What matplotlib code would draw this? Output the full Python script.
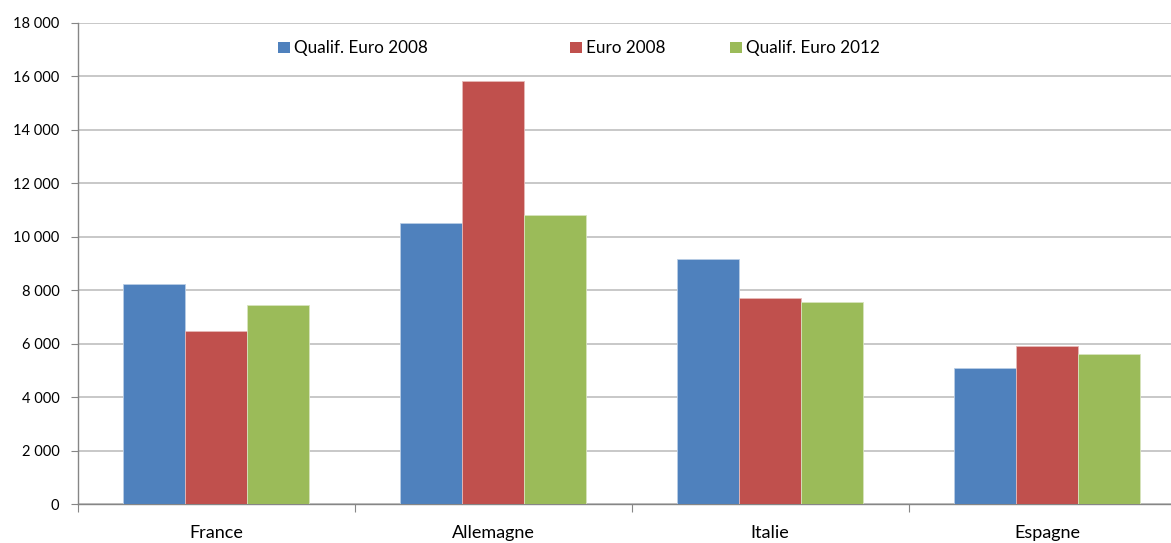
import matplotlib
matplotlib.use("Agg")
import matplotlib.pyplot as plt
from matplotlib.patches import Rectangle
from matplotlib.ticker import FuncFormatter
import numpy as np

# Data
countries = ["France", "Allemagne", "Italie", "Espagne"]
series_names = ["Qualif. Euro 2008", "Euro 2008", "Qualif. Euro 2012"]
qualif_2008 = [8240, 10500, 9170, 5080]
euro_2008 = [6480, 15830, 7720, 5920]
qualif_2012 = [7440, 10810, 7560, 5600]

colors = ["#4F81BD", "#C0504D", "#9BBB59"]
edge_colors = ["#B9CDE5", "#E6B9B8", "#D7E4BD"]

plt.rcParams["font.family"] = ["Lato", "DejaVu Sans"]
plt.rcParams["font.size"] = 10.5

fig = plt.figure(figsize=(11.71, 5.43), dpi=100)
ax = fig.add_axes([0.0662, 0.0718, 0.9462, 0.8862])

x = np.arange(len(countries))
width = 0.2227
values = [qualif_2008, euro_2008, qualif_2012]

for i, vals in enumerate(values):
    ax.bar(x + (i - 1) * width, vals, width, color=colors[i],
           edgecolor=edge_colors[i], linewidth=0.6, zorder=3)

ax.set_xlim(-0.5, len(countries) - 0.5)
ax.set_ylim(0, 18000)
ax.set_yticks(np.arange(0, 18001, 2000))
ax.yaxis.set_major_formatter(FuncFormatter(lambda v, p: f"{int(v):,}".replace(",", " ")))
ax.grid(axis="y", color="#BFBFBF", linewidth=1.2, zorder=0)

# category boundaries as ticks, names at centres
ax.set_xticks(np.arange(-0.5, len(countries), 1.0))
ax.set_xticklabels([])
ax.set_xticks(x, minor=True)
ax.set_xticklabels(countries, minor=True)
ax.tick_params(axis="x", which="minor", length=0, pad=15, labelsize=13, colors="black")
ax.tick_params(axis="x", which="major", length=6, color="#868686")
ax.tick_params(axis="y", length=5, color="#868686", labelsize=10.5, pad=8)

for side in ["top", "right"]:
    ax.spines[side].set_visible(False)
for side in ["left", "bottom"]:
    ax.spines[side].set_color("#868686")
    ax.spines[side].set_linewidth(1.0)

# legend entries laid out like the original
legend_x = [278, 570, 730]
for name, col, lx in zip(series_names, colors, legend_x):
    fig.patches.append(Rectangle((lx / 1171, 1 - 53 / 543), 12 / 1171, 11 / 543,
                                 transform=fig.transFigure, facecolor=col,
                                 edgecolor="none", figure=fig))
    fig.text((lx + 16) / 1171, 1 - 48 / 543, name, fontsize=12.3, va="center", ha="left")

fig.savefig("out.png", dpi=100)
